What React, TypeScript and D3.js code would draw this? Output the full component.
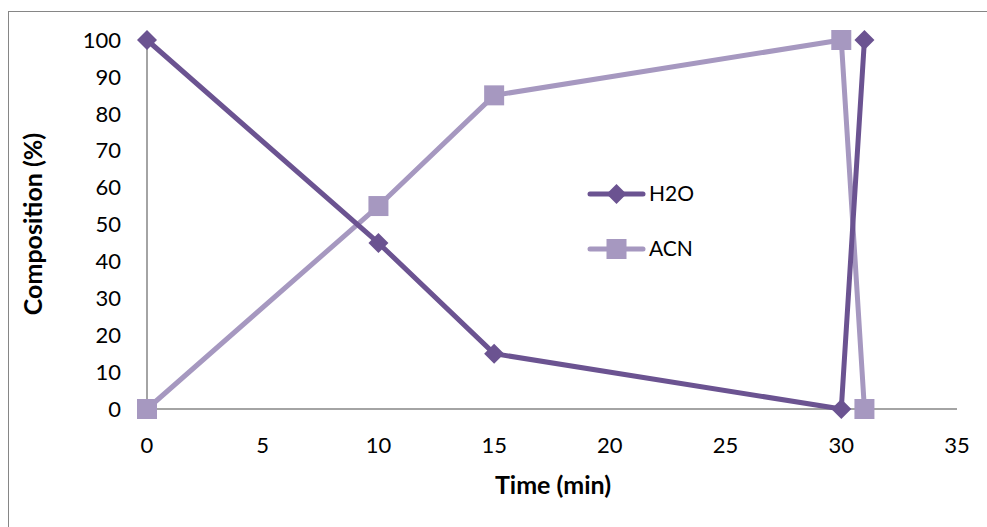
import { useEffect, useRef } from 'react'
import * as d3 from 'd3'

const times = [0, 10, 15, 30, 31]
const h2o = [100, 45, 15, 0, 100]
const acn = [0, 55, 85, 100, 0]
const xTicks = [0, 5, 10, 15, 20, 25, 30, 35]
const yTicks = [0, 10, 20, 30, 40, 50, 60, 70, 80, 90, 100]

const H2O_COLOR = '#6b5391'
const ACN_COLOR = '#a698c0'
const FONT = 'Lato, "Open Sans", sans-serif'

export default function App() {
  const svgRef = useRef<SVGSVGElement>(null)
  const width = 987
  const height = 527

  useEffect(() => {
    if (!svgRef.current) return
    const svg = d3.select(svgRef.current)
    svg.selectAll('*').remove()

    // outer frame (chart area border)
    svg.append('rect').attr('x', 8.5).attr('y', 11.5).attr('width', 1000).attr('height', 600)
      .attr('fill', 'none').attr('stroke', '#868686').attr('stroke-width', 1)

    const x = d3.scaleLinear().domain([0, 35]).range([147, 957])
    const y = d3.scaleLinear().domain([0, 100]).range([409, 40])

    // axes lines
    svg.append('line').attr('x1', x(0)).attr('x2', x(0)).attr('y1', y(100)).attr('y2', y(0))
      .attr('stroke', '#868686').attr('stroke-width', 1.5)
    svg.append('line').attr('x1', x(0)).attr('x2', x(35)).attr('y1', y(0)).attr('y2', y(0))
      .attr('stroke', '#868686').attr('stroke-width', 1.5)

    // tick labels
    yTicks.forEach(t => {
      svg.append('text').attr('x', 121).attr('y', y(t)).attr('dy', '0.35em')
        .attr('text-anchor', 'end').attr('font-family', FONT).attr('font-size', 22)
        .attr('fill', '#000').text(t)
    })
    xTicks.forEach(t => {
      svg.append('text').attr('x', x(t)).attr('y', 445).attr('dy', '0.35em')
        .attr('text-anchor', 'middle').attr('font-family', FONT).attr('font-size', 22)
        .attr('fill', '#000').text(t)
    })

    // axis titles
    svg.append('text').attr('x', 553).attr('y', 485).attr('dy', '0.35em')
      .attr('text-anchor', 'middle').attr('font-family', FONT).attr('font-size', 25)
      .attr('font-weight', 'bold').text('Time (min)')
    svg.append('text').attr('transform', `translate(33,224) rotate(-90)`).attr('dy', '0.35em')
      .attr('text-anchor', 'middle').attr('font-family', FONT).attr('font-size', 25)
      .attr('font-weight', 'bold').text('Composition (%)')

    const line = d3.line<[number, number]>().x(d => x(d[0])).y(d => y(d[1]))
    const h2oPts: [number, number][] = times.map((t, i) => [t, h2o[i]])
    const acnPts: [number, number][] = times.map((t, i) => [t, acn[i]])

    const diamond = (g: d3.Selection<SVGGElement, unknown, null, undefined>, cx: number, cy: number) =>
      g.append('path').attr('d', `M${cx},${cy - 10}L${cx + 10},${cy}L${cx},${cy + 10}L${cx - 10},${cy}Z`)
        .attr('fill', H2O_COLOR)
    const square = (g: d3.Selection<SVGGElement, unknown, null, undefined>, cx: number, cy: number) =>
      g.append('rect').attr('x', cx - 10).attr('y', cy - 10).attr('width', 20).attr('height', 20)
        .attr('fill', ACN_COLOR)

    const gA = svg.append('g')
    gA.append('path').attr('d', line(acnPts)).attr('fill', 'none').attr('stroke', ACN_COLOR)
      .attr('stroke-width', 5).attr('stroke-linejoin', 'round')
    acnPts.forEach(p => square(gA, x(p[0]), y(p[1])))

    const gH = svg.append('g')
    gH.append('path').attr('d', line(h2oPts)).attr('fill', 'none').attr('stroke', H2O_COLOR)
      .attr('stroke-width', 5).attr('stroke-linejoin', 'round')
    h2oPts.forEach(p => diamond(gH, x(p[0]), y(p[1])))

    // legend
    const lg = svg.append('g')
    const legendItems = [
      { name: 'H2O', color: H2O_COLOR, y: 194, marker: diamond },
      { name: 'ACN', color: ACN_COLOR, y: 249, marker: square },
    ]
    legendItems.forEach(it => {
      lg.append('line').attr('x1', 590).attr('x2', 643).attr('y1', it.y).attr('y2', it.y)
        .attr('stroke', it.color).attr('stroke-width', 5).attr('stroke-linecap', 'round')
      it.marker(lg, 616.5, it.y)
      lg.append('text').attr('x', 649).attr('y', it.y).attr('dy', '0.35em')
        .attr('font-family', FONT).attr('font-size', 21).text(it.name)
    })
  }, [])

  return (
    <svg ref={svgRef} width={width} height={height}
      style={{ position: 'absolute', left: 0, top: 0, background: '#fff' }} />
  )
}
